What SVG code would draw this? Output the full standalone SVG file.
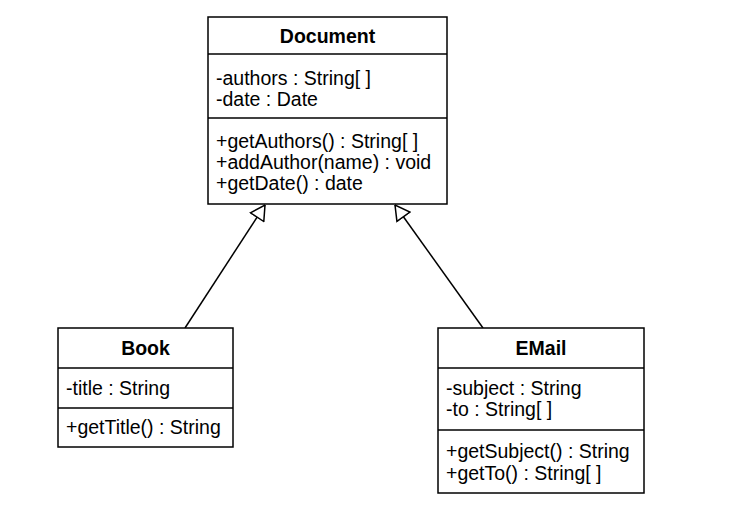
<svg xmlns="http://www.w3.org/2000/svg" width="743" height="506" viewBox="0 0 743 506">
<style>
.box{fill:#fff;stroke:#000;stroke-width:1.5}
.sep{stroke:#000;stroke-width:1.5}
text{font-family:"Liberation Sans",Arial,sans-serif;font-size:19.5px;fill:#000}
.title{font-weight:bold;text-anchor:middle}
.conn{stroke:#000;stroke-width:1.5;fill:none}
</style>
<defs>
<marker id="tri" viewBox="0 0 16 18" refX="15.5" refY="9" markerWidth="16" markerHeight="18" markerUnits="userSpaceOnUse" orient="auto">
<path d="M1,1 L15.5,9 L1,17 Z" fill="#fff" stroke="#000" stroke-width="1.5"/>
</marker>
</defs>
<rect width="743" height="506" fill="#fff"/>
<g id="connectors">
<line class="conn" x1="185" y1="328" x2="265" y2="205" marker-end="url(#tri)"/>
<line class="conn" x1="483" y1="328" x2="395" y2="205" marker-end="url(#tri)"/>
</g>
<g id="document">
<rect class="box" x="208" y="17" width="239" height="187"/>
<line class="sep" x1="208" y1="54" x2="447" y2="54"/>
<line class="sep" x1="208" y1="118" x2="447" y2="118"/>
<text class="title" x="327.5" y="43">Document</text>
<text x="216" y="85">-authors : String[ ]</text>
<text x="216" y="106">-date : Date</text>
<text x="216" y="148">+getAuthors() : String[ ]</text>
<text x="216" y="169">+addAuthor(name) : void</text>
<text x="216" y="190">+getDate() : date</text>
</g>
<g id="book">
<rect class="box" x="58" y="328" width="175" height="119"/>
<line class="sep" x1="58" y1="368" x2="233" y2="368"/>
<line class="sep" x1="58" y1="408" x2="233" y2="408"/>
<text class="title" x="145.5" y="355">Book</text>
<text x="66" y="395">-title : String</text>
<text x="66" y="434">+getTitle() : String</text>
</g>
<g id="email">
<rect class="box" x="438" y="328" width="206" height="165"/>
<line class="sep" x1="438" y1="368" x2="644" y2="368"/>
<line class="sep" x1="438" y1="430" x2="644" y2="430"/>
<text class="title" x="541" y="355">EMail</text>
<text x="446" y="395">-subject : String</text>
<text x="446" y="416">-to : String[ ]</text>
<text x="446" y="458">+getSubject() : String</text>
<text x="446" y="480">+getTo() : String[ ]</text>
</g>
</svg>
